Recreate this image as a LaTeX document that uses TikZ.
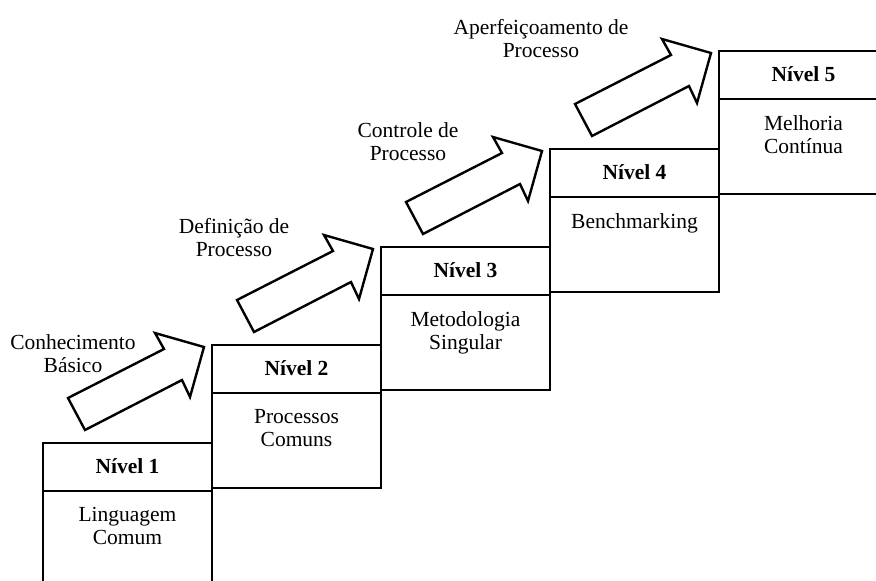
\documentclass[tikz,border=0pt]{standalone}
\usepackage{fontspec}
\setmainfont{Liberation Serif}
\begin{document}
\begin{tikzpicture}[x=1pt, y=-1pt,
  frame/.style={draw=black, line width=2.5pt},
  blockarrow/.style={draw=black, fill=white, line width=2.4pt, line join=miter},
  level/.style={font=\fontsize{21.5}{23}\selectfont\bfseries, inner sep=0pt, anchor=base},
  desc/.style={font=\fontsize{21.5}{23}\selectfont, align=center, inner sep=0pt, anchor=north},
  stage/.style={font=\fontsize{21.5}{23}\selectfont, align=center, inner sep=0pt, anchor=north}]
\fill[white] (0,0) rectangle (876,581);
\clip (0,0) rectangle (876,581);

% staircase: step k has its upper left corner at (43+169k, 443-98k)
\foreach \k in {0,...,4} {
  \pgfmathsetmacro{\xl}{43+169*\k}
  \pgfmathsetmacro{\yt}{443-98*\k}
  \draw[frame] (\xl,\yt) rectangle ++(169,143);
  \draw[frame] (\xl,\yt+48) -- ++(169,0);
}

% block arrows climbing the stairs, one per step
\foreach \k in {0,...,3} {
  \begin{scope}[shift={(169*\k,-98*\k)}]
    \draw[blockarrow] (68,398) -- (164,349) -- (155,333) -- (204,347)
      -- (190,397) -- (182,380) -- (85,430) -- cycle;
  \end{scope}
}

% level titles
\node[level] (n1) at (127.5,473.5) {Nível 1};
\node[level] (n2) at (296.5,375.5) {Nível 2};
\node[level] (n3) at (465.5,277.5) {Nível 3};
\node[level] (n4) at (634.5,179.5) {Nível 4};
\node[level] (n5) at (803.5,81.5) {Nível 5};

% level descriptions
\node[desc] (d1) at (127.5,507) {Linguagem\\Comum};
\node[desc] (d2) at (296.5,409) {Processos\\Comuns};
\node[desc] (d3) at (465.5,311) {Metodologia\\Singular};
\node[desc] (d4) at (634.5,213) {Benchmarking};
\node[desc] (d5) at (803.5,115) {Melhoria\\Contínua};

% transition labels
\node[stage] (s1) at (73,334.7) {Conhecimento\\Básico};
\node[stage] (s2) at (234,217.7) {Definição de\\Processo};
\node[stage] (s3) at (408,122.7) {Controle de\\Processo};
\node[stage] (s4) at (541,18.7) {Aperfeiçoamento de\\Processo};
\end{tikzpicture}
\end{document}
